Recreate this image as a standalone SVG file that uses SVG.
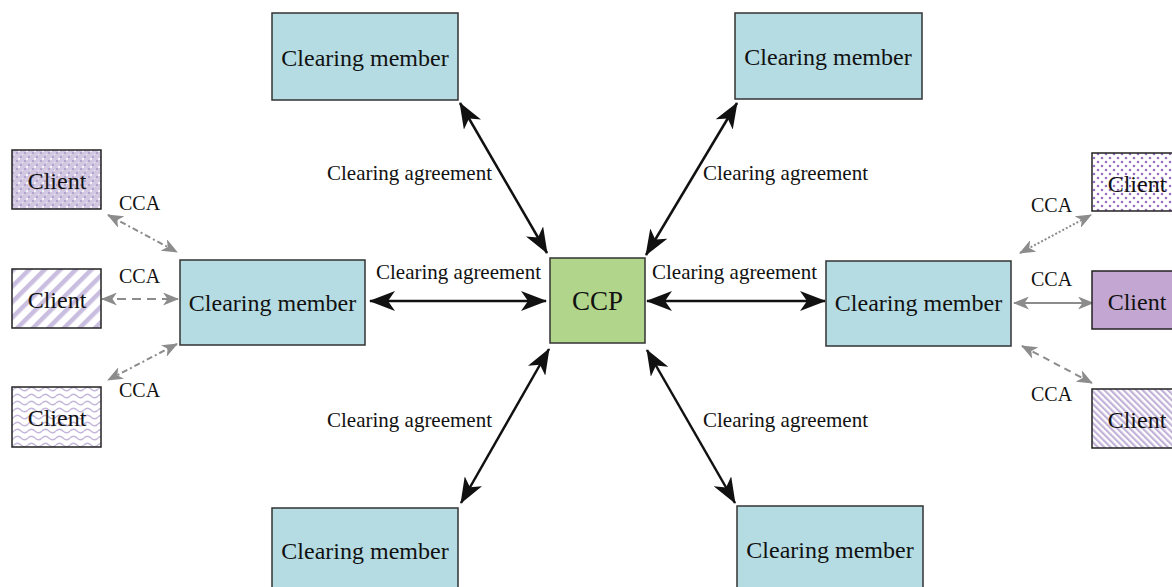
<svg xmlns="http://www.w3.org/2000/svg" width="1172" height="587" viewBox="0 0 1172 587">
<style>
.cm{fill:#b5dce3;stroke:#333;stroke-width:1.5}
.ccp{fill:#b1d58a;stroke:#333;stroke-width:1.5}
.cl{stroke:#222;stroke-width:1.5}
text{font-family:"Liberation Serif","Times New Roman",serif;fill:#111}
.t24{font-size:24px;text-anchor:middle}
.ta{font-size:21px}
.tc{font-size:20px}
.blk{stroke:#111;stroke-width:2.5;fill:none;marker-start:url(#ab);marker-end:url(#ab)}
.gry{stroke:#8c8c8c;stroke-width:2;fill:none;marker-start:url(#ag);marker-end:url(#ag)}
</style>
<defs>
<marker id="ab" viewBox="0 0 26 20" refX="25" refY="10" markerWidth="26" markerHeight="20" markerUnits="userSpaceOnUse" orient="auto-start-reverse">
<path d="M0,0 L26,10 L0,20 L7,10 z" fill="#111"/>
</marker>
<marker id="ag" viewBox="0 0 16 13" refX="15" refY="6.5" markerWidth="16" markerHeight="13" markerUnits="userSpaceOnUse" orient="auto-start-reverse">
<path d="M0,0 L16,6.5 L0,13 L4.5,6.5 z" fill="#8c8c8c"/>
</marker>
<pattern id="p1" width="8" height="8" patternUnits="userSpaceOnUse">
<rect width="8" height="8" fill="#d3c8e2"/>
<rect x="0" y="0" width="2" height="2" fill="#b4a3cc"/>
<rect x="4" y="4" width="2" height="2" fill="#b4a3cc"/>
<rect x="2" y="6" width="2" height="2" fill="#f4f0fa"/>
<rect x="6" y="2" width="1" height="1" fill="#f4f0fa"/>
</pattern>
<pattern id="p2" width="11" height="11" patternUnits="userSpaceOnUse" patternTransform="rotate(45)">
<rect width="11" height="11" fill="#ffffff"/>
<rect width="4.5" height="11" fill="#c9bedf"/>
</pattern>
<pattern id="p3" width="14" height="7" patternUnits="userSpaceOnUse">
<rect width="14" height="7" fill="#ffffff"/>
<path d="M0,4 Q3.5,0.5 7,4 T14,4" fill="none" stroke="#c3b6da" stroke-width="1.3"/>
</pattern>
<pattern id="p4" width="8" height="8" patternUnits="userSpaceOnUse">
<rect width="8" height="8" fill="#ffffff"/>
<circle cx="2" cy="2" r="1.3" fill="#9a6fc4"/>
<circle cx="6" cy="6" r="1.3" fill="#9a6fc4"/>
</pattern>
<pattern id="p5" width="4.5" height="4.5" patternUnits="userSpaceOnUse" patternTransform="rotate(-45)">
<rect width="4.5" height="4.5" fill="#ffffff"/>
<rect width="2.2" height="4.5" fill="#c2b2d8"/>
</pattern>
</defs>

<g id="connectors">
<line class="blk" x1="460" y1="103" x2="547" y2="253"/>
<line class="blk" x1="737" y1="103" x2="646" y2="255"/>
<line class="blk" x1="549" y1="349" x2="461" y2="503"/>
<line class="blk" x1="647" y1="350" x2="735" y2="503"/>
<line class="blk" x1="370" y1="301" x2="546" y2="301"/>
<line class="blk" x1="647" y1="301" x2="825" y2="301"/>
<line class="gry" stroke-dasharray="6 3 2 3" x1="108" y1="215" x2="177" y2="252"/>
<line class="gry" stroke-dasharray="9 6" x1="102" y1="299" x2="178" y2="299"/>
<line class="gry" stroke-dasharray="6 3 2 3" x1="177" y1="344" x2="108" y2="380"/>
<line class="gry" stroke-dasharray="2 2" x1="1020" y1="253" x2="1091" y2="215"/>
<line class="gry" x1="1014" y1="303" x2="1093" y2="303"/>
<line class="gry" stroke-dasharray="7 5" x1="1022" y1="346" x2="1092" y2="383"/>
<text class="ta" x="327" y="180">Clearing agreement</text>
<text class="ta" x="703" y="180">Clearing agreement</text>
<text class="ta" x="376" y="279">Clearing agreement</text>
<text class="ta" x="652" y="279">Clearing agreement</text>
<text class="ta" x="327" y="427">Clearing agreement</text>
<text class="ta" x="703" y="427">Clearing agreement</text>
<text class="tc" x="119" y="210">CCA</text>
<text class="tc" x="119" y="283">CCA</text>
<text class="tc" x="119" y="397">CCA</text>
<text class="tc" x="1031" y="212">CCA</text>
<text class="tc" x="1031" y="286">CCA</text>
<text class="tc" x="1031" y="401">CCA</text>
</g>

<g id="ccp">
<rect class="ccp" x="550" y="258" width="95" height="85"/>
<text x="597.5" y="310" style="font-size:27px;text-anchor:middle">CCP</text>
</g>
<g id="cm-top-left">
<rect class="cm" x="272" y="13" width="186" height="87"/>
<text class="t24" x="365" y="66">Clearing member</text>
</g>
<g id="cm-top-right">
<rect class="cm" x="735" y="13" width="187" height="86"/>
<text class="t24" x="828" y="65">Clearing member</text>
</g>
<g id="cm-left">
<rect class="cm" x="180" y="260" width="185" height="85"/>
<text class="t24" x="272.5" y="311">Clearing member</text>
</g>
<g id="cm-right">
<rect class="cm" x="826" y="261" width="185" height="85"/>
<text class="t24" x="918.5" y="311">Clearing member</text>
</g>
<g id="cm-bottom-left">
<rect class="cm" x="272" y="508" width="186" height="90"/>
<text class="t24" x="365" y="559">Clearing member</text>
</g>
<g id="cm-bottom-right">
<rect class="cm" x="737" y="506" width="186" height="92"/>
<text class="t24" x="830" y="558">Clearing member</text>
</g>

<g id="client-l1">
<rect class="cl" x="12" y="150" width="89" height="59" fill="url(#p1)"/>
<text class="t24" x="57" y="189">Client</text>
</g>
<g id="client-l2">
<rect class="cl" x="12" y="269" width="89" height="59" fill="url(#p2)"/>
<text class="t24" x="57" y="308">Client</text>
</g>
<g id="client-l3">
<rect class="cl" x="12" y="387" width="89" height="60" fill="url(#p3)"/>
<text class="t24" x="57" y="426">Client</text>
</g>
<g id="client-r1">
<rect class="cl" x="1092" y="153" width="82" height="58" fill="url(#p4)"/>
<text class="t24" x="1137" y="192">Client</text>
</g>
<g id="client-r2">
<rect class="cl" x="1092" y="271" width="82" height="58" fill="#c3a6d1"/>
<text class="t24" x="1137" y="310">Client</text>
</g>
<g id="client-r3">
<rect class="cl" x="1092" y="389" width="82" height="59" fill="url(#p5)"/>
<text class="t24" x="1137" y="428">Client</text>
</g>
</svg>
